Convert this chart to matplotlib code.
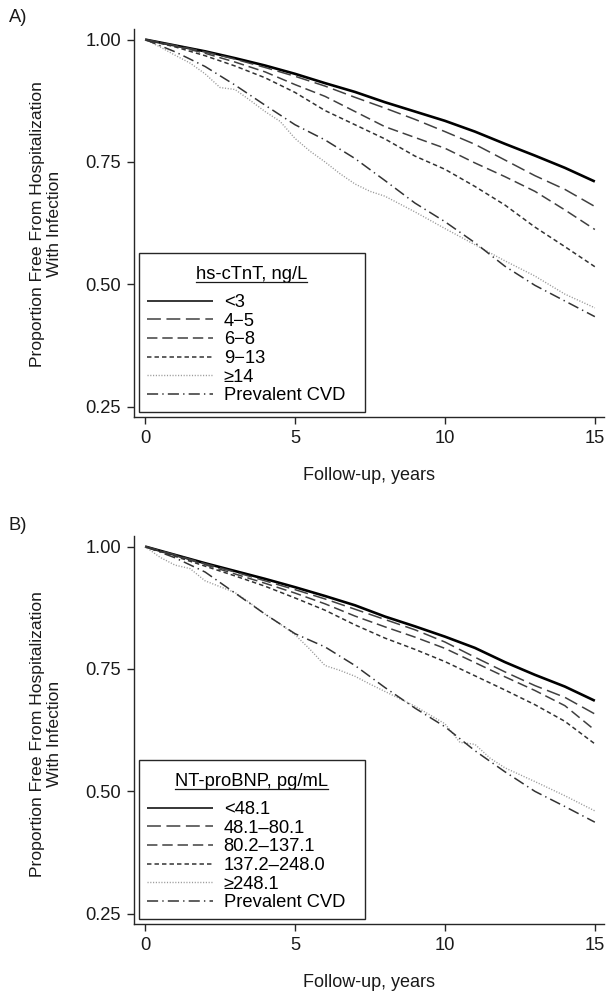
"""
infection_km.py
Kaplan-Meier style curves: freedom from hospitalization with infection,
by hs-cTnT (A) and NT-proBNP (B) categories.
"""

import matplotlib
matplotlib.use("Agg")
import matplotlib.pyplot as plt
from matplotlib.lines import Line2D
from matplotlib.offsetbox import DrawingArea

plt.rcParams['font.family'] = ['Liberation Sans', 'DejaVu Sans']
plt.rcParams['font.size'] = 13.2
plt.rcParams['lines.scale_dashes'] = False

# follow-up years shared by most curves
years = list(range(16))

# panel A: hs-cTnT, ng/L
tnt_labels = ['<3', '4\u22125', '6\u22128', '9\u221213', '\u226514', 'Prevalent CVD']
tnt_lt3 = [1.0, 0.988, 0.976, 0.962, 0.947, 0.930, 0.911, 0.893, 0.872, 0.853, 0.834, 0.812, 0.787, 0.763, 0.738, 0.710]
tnt_4_5 = [1.0, 0.988, 0.975, 0.960, 0.943, 0.925, 0.905, 0.882, 0.860, 0.837, 0.812, 0.786, 0.754, 0.722, 0.694, 0.659]
tnt_6_8 = [1.0, 0.987, 0.972, 0.954, 0.934, 0.908, 0.884, 0.853, 0.822, 0.800, 0.778, 0.748, 0.720, 0.690, 0.652, 0.612]
tnt_9_13 = [1.0, 0.985, 0.967, 0.946, 0.922, 0.892, 0.855, 0.826, 0.797, 0.762, 0.735, 0.700, 0.662, 0.617, 0.577, 0.536]
tnt_ge14_years = [0, 0.5, 1, 1.5, 2, 2.5, 3, 3.5, 4, 4.5, 5, 5.5, 6, 6.5, 7, 7.5, 8, 9, 10, 11, 12, 13, 14, 15]
tnt_ge14 = [1.0, 0.985, 0.968, 0.952, 0.930, 0.902, 0.898, 0.876, 0.853, 0.833, 0.798, 0.772, 0.750, 0.726, 0.705, 0.690, 0.680, 0.648, 0.614, 0.581, 0.548, 0.517, 0.480, 0.452]
tnt_cvd = [1.0, 0.975, 0.945, 0.907, 0.866, 0.826, 0.795, 0.757, 0.712, 0.666, 0.628, 0.585, 0.537, 0.498, 0.466, 0.434]

# panel B: NT-proBNP, pg/mL
bnp_labels = ['<48.1', '48.1\u201380.1', '80.2\u2013137.1', '137.2\u2013248.0', '\u2265248.1', 'Prevalent CVD']
bnp_lt48 = [1.0, 0.983, 0.966, 0.950, 0.934, 0.917, 0.899, 0.880, 0.857, 0.837, 0.816, 0.793, 0.764, 0.738, 0.714, 0.685]
bnp_48_80 = [1.0, 0.983, 0.965, 0.948, 0.930, 0.912, 0.893, 0.872, 0.851, 0.830, 0.805, 0.774, 0.744, 0.716, 0.692, 0.658]
bnp_80_137 = [1.0, 0.982, 0.963, 0.944, 0.925, 0.905, 0.883, 0.858, 0.836, 0.815, 0.792, 0.763, 0.734, 0.706, 0.675, 0.625]
bnp_137_248 = [1.0, 0.980, 0.960, 0.940, 0.919, 0.895, 0.870, 0.840, 0.813, 0.790, 0.765, 0.736, 0.707, 0.677, 0.643, 0.597]
bnp_ge248_years = [0, 0.5, 1, 1.5, 2, 2.5, 3, 3.5, 4, 4.5, 5, 5.5, 6, 6.5, 7, 7.5, 8, 9, 10, 10.5, 11, 11.5, 12, 13, 14, 15]
bnp_ge248 = [1.0, 0.978, 0.962, 0.955, 0.930, 0.918, 0.906, 0.885, 0.862, 0.842, 0.820, 0.790, 0.757, 0.747, 0.735, 0.719, 0.704, 0.674, 0.638, 0.600, 0.596, 0.568, 0.548, 0.520, 0.491, 0.460]
bnp_cvd = [1.0, 0.977, 0.948, 0.905, 0.862, 0.822, 0.795, 0.757, 0.712, 0.670, 0.632, 0.583, 0.540, 0.500, 0.469, 0.437]

# line style for each category, same order in both panels
styles = [
    dict(color='black', lw=1.9, ls='-'),
    dict(color='0.25', lw=1.1, ls=(0, (10, 4))),
    dict(color='0.25', lw=1.1, ls=(0, (7.5, 3.5))),
    dict(color='0.2', lw=1.1, ls=(0, (3.2, 2.2))),
    dict(color='0.6', lw=1.0, ls=(0, (0.8, 1.2))),
    dict(color='0.2', lw=1.1, ls=(0, (8, 3, 1, 3))),
]


def draw_panel(ax, series, labels, title):
    for (x, y), lab, st in zip(series, labels, styles):
        ax.plot(x, y, label=lab, solid_capstyle='butt', dash_capstyle='butt', **st)
    ax.set_xlim(-0.37, 15.3)
    ax.set_ylim(0.229, 1.0215)
    ax.set_xticks([0, 5, 10, 15])
    ax.set_yticks([0.25, 0.50, 0.75, 1.00])
    ax.set_yticklabels(['0.25', '0.50', '0.75', '1.00'])
    for s in ['top', 'right']:
        ax.spines[s].set_visible(False)
    for s in ['left', 'bottom']:
        ax.spines[s].set_color('0.15')
        ax.spines[s].set_linewidth(1.0)
    ax.tick_params(direction='out', length=5, width=1.0, color='0.15', pad=4.5, labelsize=13.2, labelcolor='0.1')
    ax.set_xlabel('Follow-up, years', labelpad=14, color='0.1', fontsize=13.0)
    leg = ax.legend(title=title, loc='lower left', bbox_to_anchor=(0.0106, 0.0129, 0.48, 0.4),
                    mode='expand', borderaxespad=0, frameon=True, fancybox=False, framealpha=1,
                    edgecolor='0.15', handlelength=3.6, handletextpad=0.6, labelspacing=0.09,
                    borderpad=0.42, fontsize=13.2, title_fontsize=13.2)
    leg.get_frame().set_linewidth(1.0)
    # legend keys are drawn thinner than the curves
    for ln in leg.get_lines():
        ln.set_linewidth(min(ln.get_linewidth(), 1.1))
    # extra room above the title and between title and entries
    box = leg._legend_box
    box.sep = 0
    box._children.insert(0, DrawingArea(1, 4))
    box._children.insert(2, DrawingArea(1, 8))
    return leg


fig = plt.figure(figsize=(6.07, 9.91), dpi=100)
ax_a = fig.add_axes([0.2208, 0.5792, 0.774, 0.3915])
ax_b = fig.add_axes([0.2208, 0.0676, 0.774, 0.3915])

series_a = [(years, tnt_lt3), (years, tnt_4_5), (years, tnt_6_8), (years, tnt_9_13),
            (tnt_ge14_years, tnt_ge14), (years, tnt_cvd)]
series_b = [(years, bnp_lt48), (years, bnp_48_80), (years, bnp_80_137), (years, bnp_137_248),
            (bnp_ge248_years, bnp_ge248), (years, bnp_cvd)]

leg_a = draw_panel(ax_a, series_a, tnt_labels, 'hs-cTnT, ng/L')
leg_b = draw_panel(ax_b, series_b, bnp_labels, 'NT-proBNP, pg/mL')

ylab = 'Proportion Free From Hospitalization\nWith Infection'
fig.text(46 / 607, 1 - 224 / 991, ylab, rotation=90, ha='center', va='center',
         multialignment='center', color='0.1', linespacing=1.15, fontsize=12.6)
fig.text(46 / 607, 1 - 734 / 991, ylab, rotation=90, ha='center', va='center',
         multialignment='center', color='0.1', linespacing=1.15, fontsize=12.6)
fig.text(9 / 607, 1 - 17 / 991, 'A)', va='center', ha='left', color='0.1')
fig.text(9 / 607, 1 - 525 / 991, 'B)', va='center', ha='left', color='0.1')

# underline the legend titles
fig.canvas.draw()
inv = fig.transFigure.inverted()
for leg in [leg_a, leg_b]:
    bb = leg.get_title().get_window_extent()
    (x0, y0), (x1, _) = inv.transform([(bb.x0, bb.y0 + 1), (bb.x1, bb.y0 + 1)])
    fig.add_artist(Line2D([x0, x1], [y0, y0], transform=fig.transFigure, color='0.1', lw=0.9))

fig.savefig('out.png', dpi=100)
